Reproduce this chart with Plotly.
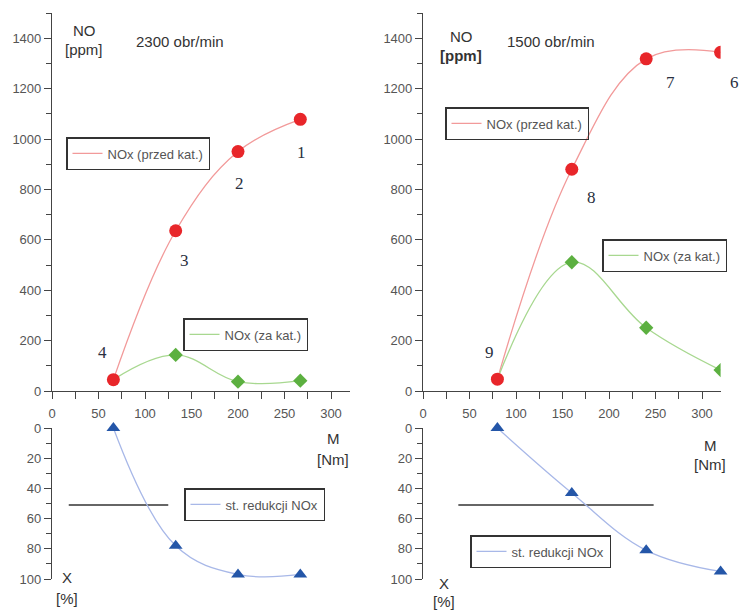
import plotly.graph_objects as go

# ---------------- data ----------------
# Left panel: 2300 obr/min
m_left = [66, 133, 200, 267]
nox_before_left = [45, 636, 950, 1078]
nox_after_left = [45, 143, 37, 41]
red_left = [0, 78, 97, 97]
ref_left_x = [18, 125]
ref_left_y = [51, 51]
labels_left = ["4", "3", "2", "1"]

# Right panel: 1500 obr/min
m_right = [80, 160, 240, 320]
nox_before_right = [47, 880, 1318, 1344]
nox_after_right = [47, 511, 251, 83]
red_right = [0, 43, 81, 95]
ref_right_x = [38, 248]
ref_right_y = [51, 51]
labels_right = ["9", "8", "7", "6"]

x_ticks = [0, 50, 100, 150, 200, 250, 300]
no_ticks = [0, 200, 400, 600, 800, 1000, 1200, 1400]
x_pct_ticks = [0, 20, 40, 60, 80, 100]

W, H = 742, 610


def px(x):
    return x / W


def py(y):
    return 1 - y / H


RED = "#e8262a"
RED_L = "#f29a9a"
GREEN = "#5cb040"
GREEN_L = "#a8d890"
BLUE = "#2456a8"
BLUE_L = "#a8b8e8"
AX = "#444444"
TXT = "#555555"
FONT = "Liberation Sans"

fig = go.Figure()


def add_panel(xa, ya, xb, yb, m, before, after, red, refx, refy, lg):
    fig.add_trace(go.Scatter(x=m, y=before, mode="lines", line=dict(color=RED_L, width=1.3, shape="spline", smoothing=1.1),
                             name="NOx (przed kat.)", legend=lg[0], xaxis=xa, yaxis=ya, hoverinfo="skip"))
    fig.add_trace(go.Scatter(x=m, y=after, mode="lines", line=dict(color=GREEN_L, width=1.3, shape="spline", smoothing=1.1),
                             name="NOx (za kat.)", legend=lg[1], xaxis=xa, yaxis=ya, hoverinfo="skip"))
    fig.add_trace(go.Scatter(x=m[1:], y=after[1:], mode="markers", marker=dict(symbol="diamond", size=11, color=GREEN),
                             showlegend=False, xaxis=xa, yaxis=ya))
    fig.add_trace(go.Scatter(x=m, y=before, mode="markers", marker=dict(symbol="circle", size=13, color=RED),
                             showlegend=False, xaxis=xa, yaxis=ya))
    fig.add_trace(go.Scatter(x=refx, y=refy, mode="lines", line=dict(color="#333333", width=1.4),
                             showlegend=False, xaxis=xb, yaxis=yb, hoverinfo="skip"))
    fig.add_trace(go.Scatter(x=m, y=red, mode="lines", line=dict(color=BLUE_L, width=1.3, shape="spline", smoothing=1.1),
                             name="st. redukcji NOx", legend=lg[2], xaxis=xb, yaxis=yb, hoverinfo="skip"))
    fig.add_trace(go.Scatter(x=m, y=red, mode="markers", marker=dict(symbol="triangle-up", size=12, color=BLUE),
                             showlegend=False, xaxis=xb, yaxis=yb, cliponaxis=False))


add_panel("x", "y", "x2", "y2", m_left, nox_before_left, nox_after_left, red_left, ref_left_x, ref_left_y,
          ["legend", "legend2", "legend3"])
add_panel("x3", "y3", "x4", "y4", m_right, nox_before_right, nox_after_right, red_right, ref_right_x, ref_right_y,
          ["legend4", "legend5", "legend6"])

x_range = [0, 320]
top_dom = [py(391), py(13)]
bot_dom = [py(579), py(428)]
left_dom = [px(52), px(52 + 320 * 0.93)]
right_dom = [px(423), px(423 + 320 * 0.93)]

tickfont = dict(family=FONT, size=13, color=TXT)


def xaxis_top(dom):
    return dict(domain=dom, range=x_range, showline=True, linecolor=AX, linewidth=1.2, ticks="outside",
                ticklen=7, tickcolor=AX, tickvals=x_ticks, showgrid=False, zeroline=False,
                tickfont=tickfont, ticklabelstandoff=3,
                minor=dict(dtick=25, tick0=0, ticks="outside", ticklen=7, tickcolor=AX))


def xaxis_bot(dom, anchor):
    return dict(domain=dom, range=x_range, visible=False, anchor=anchor)


def yaxis_top(anchor):
    return dict(domain=top_dom, range=[0, 1500], showline=True, linecolor=AX, linewidth=1.2, ticks="outside",
                ticklen=7, tickcolor=AX, tickvals=no_ticks, showgrid=False, zeroline=False, anchor=anchor,
                tickfont=tickfont, minor=dict(dtick=100, tick0=0, ticks="outside", ticklen=5, tickcolor=AX))


def yaxis_bot(anchor):
    return dict(domain=bot_dom, range=[100, 0], showline=True, linecolor=AX, linewidth=1.2, ticks="outside",
                ticklen=7, tickcolor=AX, tickvals=x_pct_ticks, showgrid=False, zeroline=False, anchor=anchor,
                tickfont=tickfont, minor=dict(dtick=10, tick0=0, ticks="outside", ticklen=5, tickcolor=AX))


def legend_at(x, y):
    return dict(x=px(x), y=py(y), xanchor="left", yanchor="top", xref="paper", yref="paper",
                bordercolor="#333333", borderwidth=1.5, bgcolor="rgba(255,255,255,0)",
                font=dict(family=FONT, size=13, color=TXT), tracegroupgap=0)


fig.update_layout(
    width=W, height=H, autosize=False, margin=dict(l=0, r=0, t=0, b=0, autoexpand=False),
    paper_bgcolor="white", plot_bgcolor="white", showlegend=True,
    xaxis=dict(**xaxis_top(left_dom), anchor="y"),
    yaxis=yaxis_top("x"),
    xaxis2=xaxis_bot(left_dom, "y2"),
    yaxis2=yaxis_bot("x2"),
    xaxis3=dict(**xaxis_top(right_dom), anchor="y3"),
    yaxis3=yaxis_top("x3"),
    xaxis4=xaxis_bot(right_dom, "y4"),
    yaxis4=yaxis_bot("x4"),
    legend=legend_at(66, 137),
    legend2=legend_at(183, 318),
    legend3=legend_at(184, 488),
    legend4=legend_at(445, 107),
    legend5=legend_at(602, 239),
    legend6=legend_at(470, 535),
)

ann = []


def txt(x, y, s, size=15, family=FONT, color="#333333"):
    ann.append(dict(x=px(x), y=py(y), xref="paper", yref="paper", text=s, showarrow=False,
                    font=dict(family=family, size=size, color=color), xanchor="center", yanchor="middle"))


# left panel texts
txt(84, 30, "NO")
txt(84, 50, "[ppm]")
txt(180, 41, "2300 obr/min")
txt(333, 438, "M")
txt(333, 460, "[Nm]")
txt(67, 577, "X")
txt(67, 598, "[%]")
# right panel texts
txt(461, 36, "NO")
txt(461, 56, "<b>[ppm]</b>")
txt(551, 41, "1500 obr/min")
txt(710, 445, "M")
txt(710, 464, "[Nm]")
txt(444, 583, "X")
txt(444, 601, "[%]")

serif = "Liberation Serif"
num_color = "#2a3040"
for s, (x, y) in zip(labels_left, [(102, 352), (184, 260), (240, 183), (301, 152)]):
    txt(x, y, s, size=17, family=serif, color=num_color)
for s, (x, y) in zip(labels_right, [(489, 352), (591, 198), (670, 83), (734, 83)]):
    txt(x, y, s, size=17, family=serif, color=num_color)

fig.update_layout(annotations=ann)

fig.write_html("out.html", config={"displayModeBar": False},
               post_script="document.body.style.margin='0';document.body.style.padding='0';")
